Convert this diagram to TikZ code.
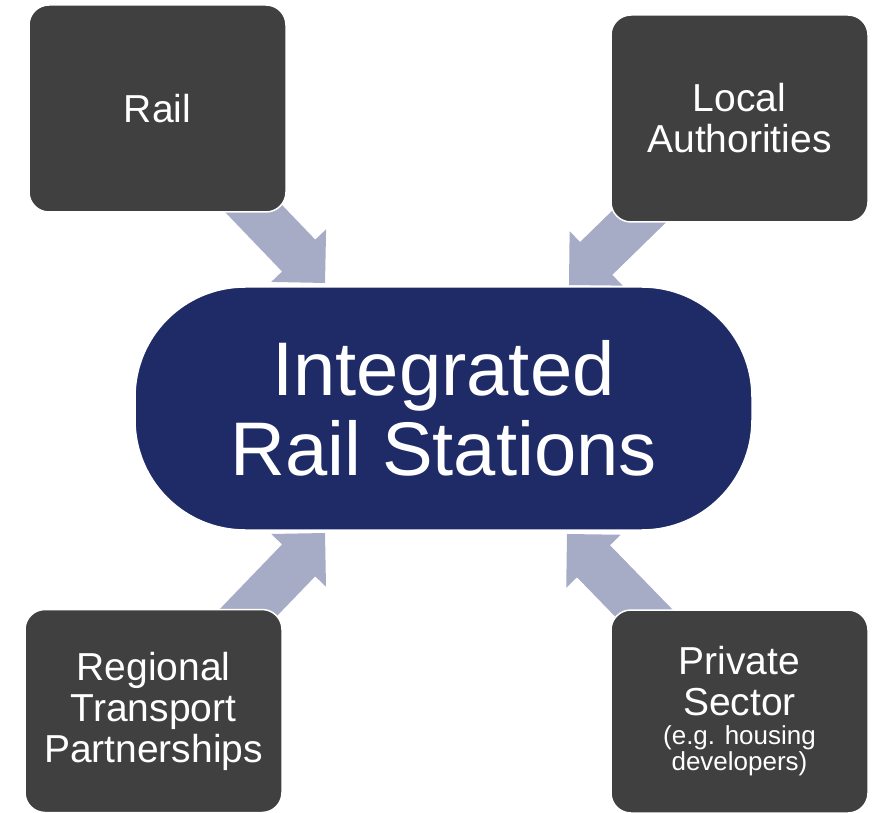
\documentclass[tikz,border=0pt]{standalone}
\usepackage{fontspec}
\setmainfont{Liberation Sans}
\usetikzlibrary{calc}
\definecolor{boxgray}{HTML}{404040}
\definecolor{hubblue}{HTML}{1E2B66}
\definecolor{arrowblue}{HTML}{A6ACC6}
\pgfdeclarelayer{back}
\pgfsetlayers{back,main}

% broad block arrow from #1 (tail) to #2 (tip)
\newcommand\blockarrow[2]{%
  \coordinate (ba-t) at (#1);
  \coordinate (ba-p) at (#2);
  \coordinate (ba-h) at ($(ba-p)!38pt!(ba-t)$);
  \fill[flowarrow] (ba-p)
    -- ($(ba-h)!38pt!90:(ba-p)$) -- ($(ba-h)!23pt!90:(ba-p)$)
    -- ($(ba-t)!23pt!90:(ba-p)$) -- ($(ba-t)!23pt!-90:(ba-p)$)
    -- ($(ba-h)!23pt!-90:(ba-p)$) -- ($(ba-h)!38pt!-90:(ba-p)$)
    -- cycle;}

\tikzset{
  party/.style={rectangle, rounded corners=20pt, fill=boxgray, draw=white,
    line width=1.5pt, text=white, align=center, inner sep=0pt,
    minimum width=257pt, minimum height=207pt,
    font=\fontsize{39}{41}\selectfont},
  hub/.style={rectangle, rounded corners=110pt, fill=hubblue, draw=white,
    line width=1.5pt, text=white, align=center, inner sep=0pt,
    minimum width=617pt, minimum height=243pt,
    font=\fontsize{76}{80}\selectfont},
  flowarrow/.style={fill=arrowblue},
}
\newcommand\notefont{\fontsize{26}{27}\selectfont}

\begin{document}
\begin{tikzpicture}[x=1pt, y=-1pt]
  \useasboundingbox (0,0) rectangle (876,813);

  % partner boxes
  \node[party] (rail) at (157.5,108.5) {Rail};
  \node[party] (local) at (739.5,118.5) {Local\\Authorities};
  \node[party, minimum height=203pt] (rtp) at (153.5,711) {Regional\\Transport\\Partnerships};
  \node[party, minimum height=203pt] (private) at (739.5,711.5)
    {Private\\Sector\\[-12pt]{\notefont (e.g. housing}\\[-15pt]{\notefont developers)}};

  % central hub
  \node[hub] (hub) at (443.5,408.5) {Integrated\\Rail Stations};

  % arrow tips, tucked just against the hub
  \coordinate (tipRail) at (325,283);
  \coordinate (tipLocal) at (569,285);
  \coordinate (tipRtp) at (325,533);
  \coordinate (tipPrivate) at (567,534);

  \begin{pgfonlayer}{back}
    \fill[white] (0,0) rectangle (876,813);
    \blockarrow{rail.center}{tipRail}
    \blockarrow{local.center}{tipLocal}
    \blockarrow{rtp.center}{tipRtp}
    \blockarrow{private.center}{tipPrivate}
  \end{pgfonlayer}
\end{tikzpicture}
\end{document}
